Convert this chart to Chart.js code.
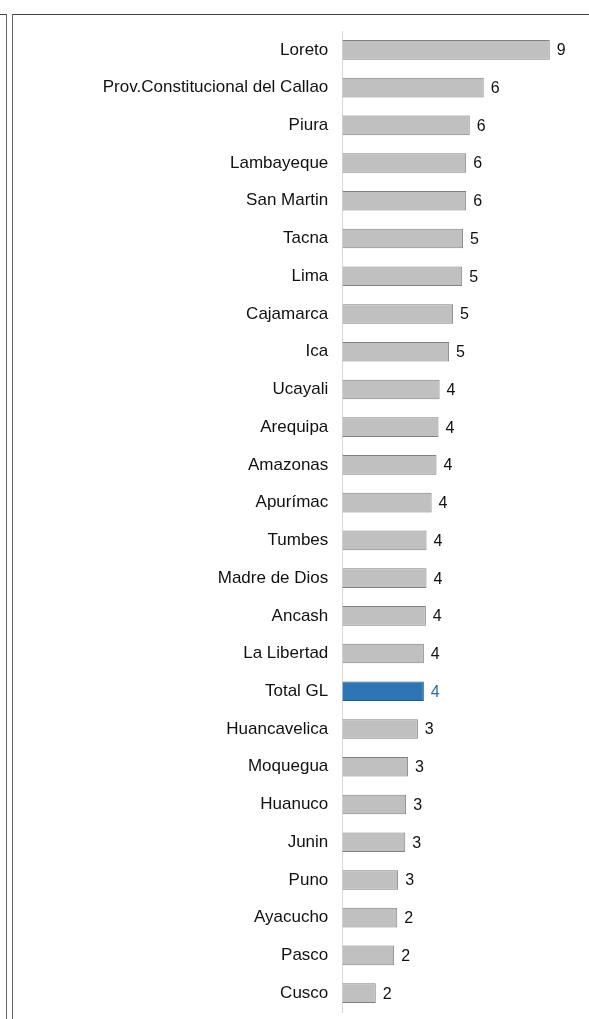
<!DOCTYPE html>
<html lang="es">
<head>
    <meta charset="UTF-8">
    <title>Gobiernos locales por departamento</title>
    <script src="https://cdn.jsdelivr.net/npm/chart.js"></script>
    <style>
        html, body { margin: 0; padding: 0; background: #fff; }
        body { width: 589px; height: 1019px; position: relative; overflow: hidden; }
        #frameA { position: absolute; left: 0; top: 14px; width: 7px; height: 1010px;
                  border-top: 1px solid #444; border-right: 1px solid #666; box-sizing: border-box; }
        #frameB { position: absolute; left: 12px; top: 14px; width: 590px; height: 1010px;
                  border-top: 1px solid #444; border-left: 1px solid #666; box-sizing: border-box; }
        #wrap { position: absolute; left: 13px; top: 15px; width: 576px; height: 1004px; }
    </style>
</head>
<body>
<div id="frameA"></div>
<div id="frameB"></div>
<div id="wrap"><canvas id="myChart"></canvas></div>

<script>
    // departamentos (de arriba a abajo)
    const departamentos = ['Loreto', 'Prov.Constitucional del Callao', 'Piura', 'Lambayeque', 'San Martin',
        'Tacna', 'Lima', 'Cajamarca', 'Ica', 'Ucayali', 'Arequipa', 'Amazonas', 'Apurímac', 'Tumbes',
        'Madre de Dios', 'Ancash', 'La Libertad', 'Total GL', 'Huancavelica', 'Moquegua', 'Huanuco',
        'Junin', 'Puno', 'Ayacucho', 'Pasco', 'Cusco'];

    // largo de cada barra (estimado)
    const valores = [9.36, 6.38, 5.75, 5.59, 5.59, 5.45, 5.41, 5.00, 4.82, 4.39, 4.34, 4.25, 4.03, 3.80,
        3.80, 3.77, 3.68, 3.68, 3.41, 2.97, 2.88, 2.84, 2.52, 2.48, 2.34, 1.51];

    // numero mostrado al lado de cada barra
    const etiquetas = [9, 6, 6, 6, 6, 5, 5, 5, 5, 4, 4, 4, 4, 4, 4, 4, 4, 4, 3, 3, 3, 3, 3, 2, 2, 2];

    const destacado = 'Total GL';

    const fondos = departamentos.map(d => d === destacado ? '#2e75b6' : '#c0c0c0');
    const bordes = departamentos.map(d => d === destacado ? '#22598c' : '#808080');
    const colorTexto = departamentos.map(d => d === destacado ? '#2e6aa6' : '#111111');

    const valueLabels = {
        id: 'valueLabels',
        afterDatasetsDraw(chart) {
            const ctx = chart.ctx;
            const meta = chart.getDatasetMeta(0);
            ctx.save();
            ctx.font = '16px "Liberation Sans", Arial, sans-serif';
            ctx.textAlign = 'left';
            ctx.textBaseline = 'middle';
            meta.data.forEach((bar, i) => {
                ctx.fillStyle = colorTexto[i];
                ctx.fillText(String(etiquetas[i]), bar.x + 7, bar.y + 1);
            });
            ctx.restore();
        }
    };

    const ctx = document.getElementById('myChart').getContext('2d');
    new Chart(ctx, {
        type: 'bar',
        data: {
            labels: departamentos,
            datasets: [{
                data: valores,
                backgroundColor: fondos,
                borderColor: bordes,
                borderWidth: 1,
                categoryPercentage: 1,
                barPercentage: 0.52
            }]
        },
        options: {
            indexAxis: 'y',
            responsive: true,
            maintainAspectRatio: false,
            animation: false,
            layout: { padding: { top: 16, bottom: 7, right: 14, left: 0 } },
            plugins: {
                legend: { display: false },
                tooltip: { enabled: false }
            },
            scales: {
                x: {
                    display: false,
                    min: 0,
                    max: 10.5
                },
                y: {
                    afterFit(scale) {
                        scale.width = 329.3;
                        scale.paddingTop = 0;
                        scale.paddingBottom = 0;
                    },
                    grid: { display: false, drawTicks: false },
                    border: { display: true, color: '#d9d9d9', width: 1 },
                    ticks: {
                        padding: 14,
                        color: '#111111',
                        font: { family: '"Liberation Sans", Arial, sans-serif', size: 17 }
                    }
                }
            }
        },
        plugins: [valueLabels]
    });
</script>
</body>
</html>
